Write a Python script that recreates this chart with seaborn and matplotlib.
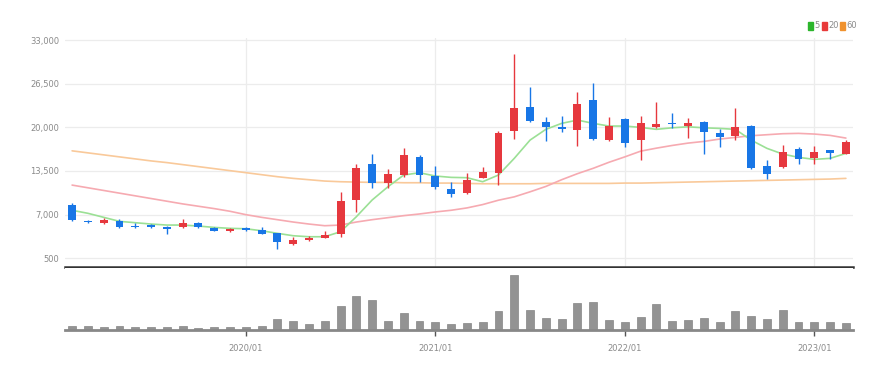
import numpy as np
import pandas as pd
import matplotlib
matplotlib.use("Agg")
import matplotlib.pyplot as plt
from matplotlib.patches import Rectangle
from matplotlib import font_manager
import seaborn as sns

# ---------------- data (monthly candles, 2019/02 .. 2023/03) ----------------
open_ = [8450, 6100, 5700, 6050, 5350, 5450, 5200, 5100, 5800, 5050,
         4600, 4950, 4700, 4220, 2670, 3180, 3570, 4070, 9180, 14570,
         11750, 12850, 15570, 12790, 10810, 10260, 12500, 13150, 19490, 23060,
         20740, 19990, 19590, 24060, 18100, 21180, 18100, 20000, 20680, 20230,
         20830, 19190, 18700, 20230, 14230, 14130, 16760, 15380, 16570, 16020]
high = [8800, 6200, 6450, 6350, 5800, 5550, 5250, 6300, 5850, 5100,
        4950, 5100, 5150, 4300, 3620, 3750, 4560, 10320, 14490, 16020,
        13830, 16870, 15870, 14230, 11900, 13150, 14040, 19440, 30860, 26030,
        21570, 21670, 25290, 26630, 21480, 21330, 21720, 23800, 22080, 21330,
        20930, 19740, 22820, 20340, 15130, 17360, 17020, 17210, 16610, 18100]
low = [6100, 5750, 5650, 4950, 5050, 5000, 4100, 5000, 5000, 4500,
       4450, 4500, 4050, 1880, 2500, 3100, 3450, 3620, 7430, 11000,
       11000, 12600, 11900, 10770, 9670, 10020, 12400, 11410, 18250, 20830,
       17950, 19340, 17210, 18100, 18000, 17020, 15130, 19900, 19840, 18450,
       16020, 17110, 18100, 13740, 12260, 13980, 14530, 14530, 15230, 16020]
close = [6200, 5850, 6200, 5200, 5100, 5200, 4850, 5800, 5100, 4600,
         4850, 4700, 4150, 2880, 3220, 3570, 3970, 9030, 13980, 11660,
         13000, 15830, 12900, 11150, 10020, 12150, 13300, 19100, 22820, 20930,
         20080, 19700, 23420, 18250, 20190, 17610, 20590, 20440, 20440, 20590,
         19340, 18590, 20080, 13980, 12990, 16360, 15280, 16360, 16210, 17760]
volume = [400, 400, 270, 400, 270, 270, 270, 400, 200, 270,
          270, 270, 400, 1130, 900, 630, 930, 2430, 3430, 3000,
          930, 1670, 930, 800, 600, 670, 770, 1930, 5530, 2000,
          1230, 1100, 2670, 2830, 970, 770, 1300, 2630, 900, 970,
          1230, 800, 1930, 1430, 1100, 2000, 800, 800, 770, 670]
ma5 = [7650, 7200, 6600, 6000, 5800, 5600, 5450, 5450, 5300, 5100,
       4960, 4900, 4600, 4220, 3860, 3710, 3710, 4460, 6690, 9180,
       11150, 12900, 13240, 12750, 12550, 12500, 11900, 12900, 15380, 18100,
       19700, 20590, 21080, 20590, 20190, 20190, 19990, 19700, 19930, 20080,
       19930, 19840, 19700, 18100, 16870, 16020, 15530, 15230, 15380, 16120]
ma20 = [11400, 11000, 10600, 10200, 9800, 9400, 9000, 8600, 8250, 7900,
        7500, 7000, 6600, 6250, 5900, 5600, 5350, 5450, 5900, 6250,
        6550, 6850, 7100, 7400, 7650, 8000, 8500, 9150, 9650, 10400,
        11200, 12200, 13100, 13900, 14800, 15600, 16450, 16900, 17300, 17650,
        17900, 18250, 18500, 18750, 18900, 19050, 19100, 19000, 18800, 18400]
ma60 = [16500, 16200, 15900, 15600, 15300, 15000, 14750, 14450, 14150, 13850,
        13550, 13250, 12950, 12650, 12400, 12200, 12000, 11900, 11850, 11800,
        11800, 11750, 11750, 11700, 11700, 11650, 11600, 11600, 11600, 11600,
        11650, 11650, 11650, 11650, 11650, 11700, 11700, 11750, 11800, 11850,
        11900, 11950, 12000, 12050, 12100, 12150, 12200, 12250, 12300, 12400]
y_ticks = [500, 7000, 13500, 20000, 26500, 33000]
x_tick_pos = [11, 23, 35, 47]
x_tick_labels = ["2020/01", "2021/01", "2022/01", "2023/01"]
legend_labels = ["5", "20", "60"]

# ---------------- style ----------------
sns.set_theme(style="white")
installed = {f.name for f in font_manager.fontManager.ttflist}
fam = ["Liberation Sans Narrow", "DejaVu Sans"] if "Liberation Sans Narrow" in installed else ["DejaVu Sans"]
fsize = 7 if "Liberation Sans Narrow" in installed else 6
plt.rcParams["font.family"] = fam

RED = "#e6383e"
BLUE = "#1876e6"
C5, C20, C60 = "#9be095", "#f6aab1", "#f9c99a"
TXT = "#8a8a8a"

W, H = 893, 371
fig = plt.figure(figsize=(W / 100, H / 100), dpi=100)
fig.patch.set_facecolor("white")

def frac_box(x0, y_top, x1, y_bot):
    return [x0 / W, 1 - y_bot / H, (x1 - x0) / W, (y_bot - y_top) / H]

ax = fig.add_axes(frac_box(65, 38, 853, 267))
axv = fig.add_axes(frac_box(65, 268, 853, 330), sharex=ax)

df = pd.DataFrame({"idx": np.arange(len(close)), "open": open_, "high": high,
                   "low": low, "close": close, "volume": volume,
                   "ma5": ma5, "ma20": ma20, "ma60": ma60})

# moving average lines
for col, c in [("ma60", C60), ("ma20", C20), ("ma5", C5)]:
    sns.lineplot(data=df, x="idx", y=col, ax=ax, color=c, linewidth=1.2, zorder=2)

# candles
up = df["close"] >= df["open"]
colors = np.where(up, RED, BLUE)
ax.vlines(df["idx"], df["low"], df["high"], colors=colors, linewidth=1.0, zorder=3)
body_bottom = np.minimum(df["open"], df["close"])
body_h = np.maximum(np.abs(df["close"] - df["open"]), 250)
ax.bar(df["idx"], body_h, bottom=body_bottom, width=0.5, color=colors, zorder=4, linewidth=0)

ax.set_ylim(-795, 33300)
ax.set_xlim(-0.45, 49.45)
ax.set_yticks(y_ticks)
ax.set_yticklabels([f"{v:,}" for v in y_ticks], fontsize=fsize, color=TXT)
ax.set_xticks(x_tick_pos)
ax.tick_params(axis="x", length=0, labelbottom=False)
ax.tick_params(axis="y", length=2, color="#dddddd", pad=2)
ax.grid(True, color="#ececec", linewidth=0.9)
ax.set_xlabel("")
ax.set_ylabel("")
for s in ["top", "right", "left"]:
    ax.spines[s].set_visible(False)
ax.spines["bottom"].set_color("#333333")
ax.spines["bottom"].set_linewidth(1.8)

# volume
sns.barplot(data=df, x="idx", y="volume", ax=axv, native_scale=True, width=0.5,
            color="#939393", saturation=1, edgecolor="#858585", linewidth=0.5)
axv.set_ylim(0, 6200)
axv.set_xlim(-0.45, 49.45)
axv.set_yticks([])
axv.set_xticks(x_tick_pos)
axv.set_xticklabels(x_tick_labels, fontsize=fsize, color=TXT)
axv.tick_params(axis="x", length=4, width=1, color="#555555", pad=6, bottom=True)
axv.set_xlabel("")
axv.set_ylabel("")
axv.grid(False)
for s in ["top", "right", "left"]:
    axv.spines[s].set_visible(False)
axv.spines["bottom"].set_color("#888888")
axv.spines["bottom"].set_linewidth(2)

# legend (top right)
leg_items = [(808, "#2cb52c", legend_labels[0], 814),
             (822, "#e83a3a", legend_labels[1], 828),
             (840, "#f0922e", legend_labels[2], 846)]
for xs, c, lab, xt in leg_items:
    fig.patches.append(Rectangle((xs / W, 1 - 30 / H), 5 / W, 8 / H,
                                 transform=fig.transFigure, color=c, figure=fig))
    fig.text(xt / W, 1 - 26 / H, lab, fontsize=fsize, color=TXT, va="center", ha="left")

fig.savefig("out.png", dpi=100, facecolor="white")
